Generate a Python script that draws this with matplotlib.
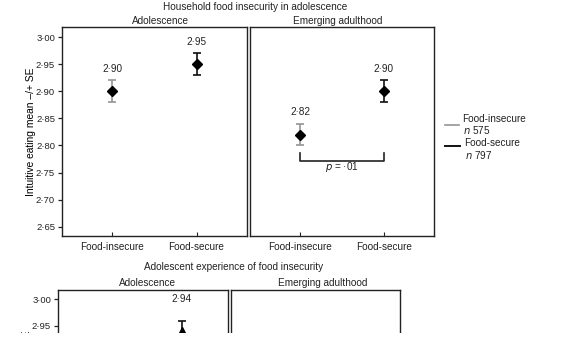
import matplotlib as mpl
import matplotlib.pyplot as plt
import numpy as np

plt.rcParams["font.family"] = ["Liberation Sans", "DejaVu Sans"]
plt.rcParams["text.color"] = "#222222"
plt.rcParams["axes.edgecolor"] = "#222222"
plt.rcParams["xtick.color"] = "#222222"
plt.rcParams["ytick.color"] = "#222222"

# data
groups = ["Food-insecure", "Food-secure"]
periods = ["Adolescence", "Emerging adulthood"]
ns = [575, 797]

# household food insecurity (top chart)
hh_adol_mean = [2.90, 2.95]
hh_adol_se = [0.02, 0.02]
hh_emerg_mean = [2.82, 2.90]
hh_emerg_se = [0.02, 0.02]

# adolescent experience (bottom chart, only the visible part)
exp_adol_mean = [2.94]
exp_adol_se = [0.02]

yticks = [2.65, 2.70, 2.75, 2.80, 2.85, 2.90, 2.95, 3.00]
yticks_bot = [2.95, 3.00]  # the rest is below the page edge

W, H = 567, 338
fig = plt.figure(figsize=(W / 100, H / 100), dpi=100)


def px_axes(x0, y0, x1, y1):
    return fig.add_axes([x0 / W, 1 - y1 / H, (x1 - x0) / W, (y1 - y0) / H])


def fmt(v):
    return f"{v:.2f}".replace(".", "\u00b7")


def style(ax, ticks, ylim, xlabels=True):
    ax.set_xlim(-0.6, 1.6)
    ax.set_ylim(*ylim)
    for s in ax.spines.values():
        s.set_linewidth(1.0)
    ax.set_xticks([0, 1])
    ax.set_xticklabels(groups if xlabels else [], fontsize=7.2)
    ax.tick_params(axis="x", direction="in", length=3, width=0.8, pad=4)
    if ticks:
        ax.set_yticks(ticks)
        ax.set_yticklabels([fmt(t) for t in ticks], fontsize=6.8)
        ax.tick_params(axis="y", direction="out", length=3, width=0.9, pad=2)
        ax.set_ylabel("Intuitive eating mean \u2013/+ SE", fontsize=7.4, labelpad=0)
    else:
        ax.set_yticks([])


def draw(ax, xs, means, ses, marker, off):
    cols = ["#959595", "#111111"]
    for x, m, s in zip(xs, means, ses):
        ax.errorbar(x, m, yerr=s, fmt="none", ecolor=cols[x], elinewidth=1.2,
                    capsize=3, capthick=1.2)
        ax.plot(x, m, marker=marker, color="black", markersize=5.2 if marker == "D" else 6,
                linestyle="none")
        ax.text(x, m + off, fmt(m), ha="center", va="center", fontsize=7.2)


# top chart
ylim_top = (2.633, 3.0185)
a1 = px_axes(62, 27, 247, 236)
a2 = px_axes(250, 27, 434, 236)
style(a1, yticks, ylim_top)
style(a2, None, ylim_top)
draw(a1, [0, 1], hh_adol_mean, hh_adol_se, "D", 0.041)
draw(a2, [0, 1], hh_emerg_mean, hh_emerg_se, "D", 0.041)

# bracket with p value
a2.plot([0, 0, 1, 1], [2.786, 2.772, 2.772, 2.786], color="#222222", lw=1.2)
a2.text(0.5, 2.760, "$p$ = \u00b701", ha="center", va="center", fontsize=7.2)

fig.text(255 / W, 1 - 7 / H, "Household food insecurity in adolescence",
         ha="center", va="center", fontsize=7.2)
fig.text(160 / W, 1 - 21 / H, periods[0], ha="center", va="center", fontsize=7.2)
fig.text(338 / W, 1 - 21 / H, periods[1], ha="center", va="center", fontsize=7.2)

# legend
fig.add_artist(mpl.lines.Line2D([445 / W, 459 / W], [1 - 125 / H] * 2,
                                color="#959595", lw=1.2))
fig.add_artist(mpl.lines.Line2D([445 / W, 460 / W], [1 - 146 / H] * 2,
                                color="#111111", lw=1.4))
fig.text(462 / W, 1 - 119 / H, groups[0], ha="left", va="center", fontsize=7.2)
fig.text(463 / W, 1 - 130 / H, f"$n$ {ns[0]}", ha="left", va="center", fontsize=7.2)
fig.text(464 / W, 1 - 143 / H, groups[1], ha="left", va="center", fontsize=7.2)
fig.text(465 / W, 1 - 155 / H, f"$n$ {ns[1]}", ha="left", va="center", fontsize=7.2)

# bottom chart (cut off by the page edge)
ylim_bot = (2.628, 3.017)
b1 = px_axes(58, 290, 228, 499)
b2 = px_axes(231, 290, 400, 499)
style(b1, yticks_bot, ylim_bot, xlabels=False)
style(b2, None, ylim_bot, xlabels=False)
draw(b1, [1], exp_adol_mean, exp_adol_se, "^", 0.06)

fig.text(234 / W, 1 - 267 / H, "Adolescent experience of food insecurity",
         ha="center", va="center", fontsize=7.2)
fig.text(147 / W, 1 - 283 / H, periods[0], ha="center", va="center", fontsize=7.2)
fig.text(323 / W, 1 - 283 / H, periods[1], ha="center", va="center", fontsize=7.2)

# page is cut just above the bottom
fig.add_artist(mpl.patches.Rectangle((0, 0), 1, 5 / H, transform=fig.transFigure,
                                     facecolor="white", edgecolor="none", zorder=10))

fig.savefig("out.png", dpi=100, facecolor="white")
